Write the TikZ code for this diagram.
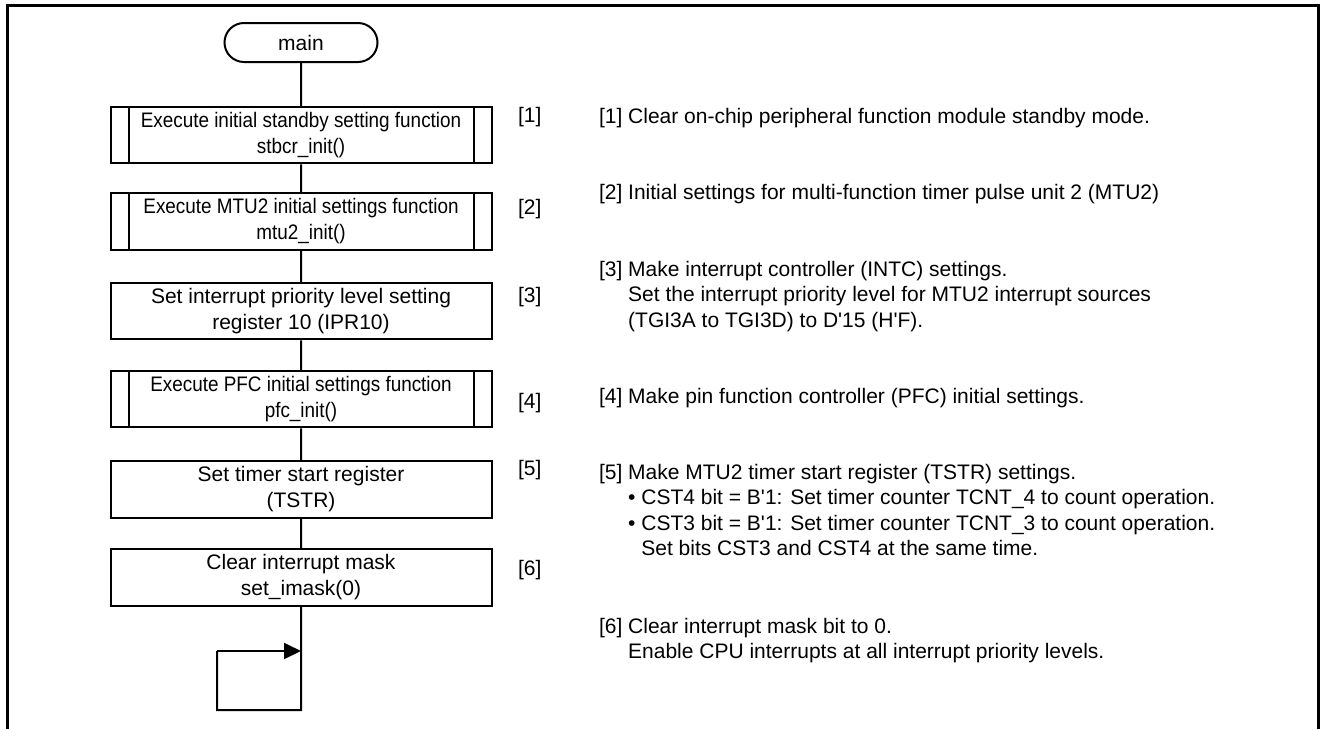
\documentclass[tikz,border=0pt]{standalone}
\usepackage{fontspec}
\setmainfont{Liberation Sans}
\newfontfamily\narrowfont{Liberation Sans}[FakeStretch=0.9]
\usetikzlibrary{shapes.misc, arrows.meta, positioning}
\tikzstyle{proc} = [draw, rectangle, minimum width=190.5pt, minimum height=28.25pt, inner sep=0pt, align=center, font=\fontsize{10.5}{13}\selectfont]
\tikzstyle{subproc} = [proc, font=\narrowfont\fontsize{10.5}{13}\selectfont,
  path picture={\draw ([xshift=9pt]path picture bounding box.north west) -- ([xshift=9pt]path picture bounding box.south west)
    ([xshift=-9pt]path picture bounding box.north east) -- ([xshift=-9pt]path picture bounding box.south east);}]
\tikzstyle{term} = [draw, rounded rectangle, minimum width=76.5pt, minimum height=19.5pt, inner sep=0pt]
\tikzstyle{tag} = [anchor=west, inner sep=0pt]
\tikzstyle{note} = [anchor=north west, inner sep=0pt, align=left, font=\fontsize{10.5}{12.75}\selectfont]
\newcommand{\tick}{\textquotesingle}

\begin{document}
\begin{tikzpicture}[x=0.5pt, y=-0.5pt, line width=1pt, font=\fontsize{10.5}{12.75}\selectfont, >={Triangle[length=8.5pt,width=8pt]}]
    \useasboundingbox (0,0) rectangle (1328,729);
    \draw [line width=1.5pt] (7,729) -- (7,5) -- (1318,5) -- (1318,729);
    \node [term] (main) at (301,42.5) {main};
    \node [subproc] (stbcr) at (301,135) {Execute initial standby setting function\\stbcr\_init()};
    \node [subproc] (mtu) at (301,221.5) {Execute MTU2 initial settings function\\mtu2\_init()};
    \node [proc] (ipr) at (301,311) {Set interrupt priority level setting\\register 10 (IPR10)};
    \node [subproc] (pfc) at (301,399) {Execute PFC initial settings function\\pfc\_init()};
    \node [proc] (tstr) at (301,489.5) {Set timer start register\\(TSTR)};
    \node [proc] (imask) at (301,577.5) {Clear interrupt mask\\set\_imask(0)};
    \coordinate (loopend) at (301,710);
    \coordinate (loopturn) at (217,651);
    \draw (main) -- (stbcr) -- (mtu) -- (ipr) -- (pfc) -- (tstr) -- (imask) -- (loopend) -| (loopturn);
    \draw [->] (loopturn) -- (loopturn -| imask);
    \node [tag] (n1) at (517,117) {[1]};
    \node [tag] (n2) at (517,209) {[2]};
    \node [tag] (n3) at (517,297) {[3]};
    \node [tag] (n4) at (517,403) {[4]};
    \node [tag] (n5) at (517,470) {[5]};
    \node [tag] (n6) at (517,570) {[6]};
    \node [note] (t1) at (598,107) {[1] Clear on-chip peripheral function module standby mode.};
    \node [note] (t2) at (598,183) {[2] Initial settings for multi-function timer pulse unit 2 (MTU2)};
    \node [note] (t3) at (598,260) {[3] Make interrupt controller (INTC) settings.\\
      \hphantom{[3] }Set the interrupt priority level for MTU2 interrupt sources\\
      \hphantom{[3] }(TGI3A to TGI3D) to D\tick 15 (H\tick F).};
    \node [note] (t4) at (598,387) {[4] Make pin function controller (PFC) initial settings.};
    \node [note] (t5) at (598,463) {[5] Make MTU2 timer start register (TSTR) settings.\\
      \hphantom{[5] }\textbullet\ CST4 bit = B\tick 1: Set timer counter TCNT\_4 to count operation.\\
      \hphantom{[5] }\textbullet\ CST3 bit = B\tick 1: Set timer counter TCNT\_3 to count operation.\\
      \hphantom{[5] \textbullet\ }Set bits CST3 and CST4 at the same time.};
    \node [note] (t6) at (598,617) {[6] Clear interrupt mask bit to 0.\\
      \hphantom{[6] }Enable CPU interrupts at all interrupt priority levels.};
\end{tikzpicture}
\end{document}
